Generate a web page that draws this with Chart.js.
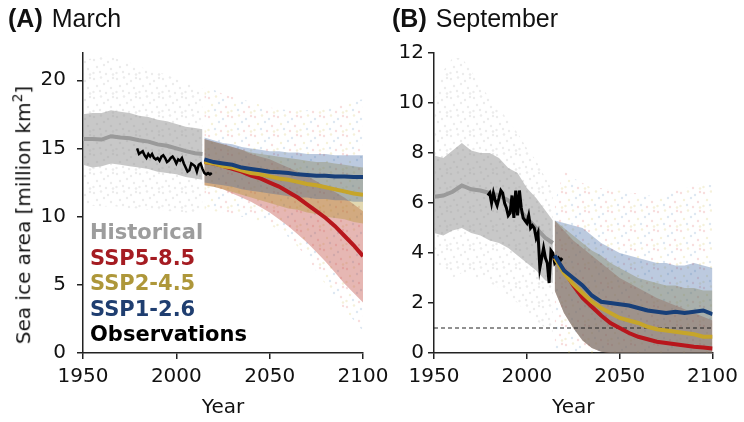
<!DOCTYPE html>
<html>
<head>
<meta charset="utf-8">
<script src="https://cdn.jsdelivr.net/npm/chart.js@4.4.1/dist/chart.umd.min.js"></script>
<style>
  body { margin: 0; background: #fff; width: 744px; height: 422px; overflow: hidden; position: relative; font-family: "DejaVu Sans", sans-serif; }
  canvas { position: absolute; top: 0; }
  #chartA { left: 0; }
  #chartB { left: 380px; }
  .titulo { position: absolute; top: 4px; font-family: "Liberation Sans", Arial, sans-serif; font-size: 25px; color: #111; white-space: nowrap; }
  .titulo b { margin-right: 9px; }
  .ylab { position: absolute; left: 22px; top: 215px; transform: translate(-50%, -50%) rotate(-90deg); font-size: 20px; color: #111; white-space: nowrap; }
  .ylab sup { font-size: 14px; }
  .leyenda { position: absolute; left: 90px; top: 220px; font-weight: bold; font-size: 21px; line-height: 25.5px; white-space: nowrap; }
</style>
</head>
<body>
<canvas id="chartA" width="400" height="422"></canvas>
<canvas id="chartB" width="364" height="422"></canvas>
<div class="titulo" style="left:8px"><b>(A)</b>March</div>
<div class="titulo" style="left:392px"><b>(B)</b>September</div>
<div class="ylab">Sea ice area [million km<sup>2</sup>]</div>
<div class="leyenda">
  <div style="color:#9d9d9d">Historical</div>
  <div style="color:#a51c22">SSP5-8.5</div>
  <div style="color:#ae973a">SSP2-4.5</div>
  <div style="color:#1f3e70">SSP1-2.6</div>
  <div style="color:#000">Observations</div>
</div>
<script>
// Años
const histYears = [1950, 1955, 1960, 1965, 1970, 1975, 1980, 1985, 1990, 1995, 2000, 2005, 2010, 2014];
const projYears = [2015, 2020, 2025, 2030, 2035, 2040, 2045, 2050, 2055, 2060, 2065, 2070, 2075, 2080, 2085, 2090, 2095, 2100];
const obsYears = [1979, 1980, 1981, 1982, 1983, 1984, 1985, 1986, 1987, 1988, 1989, 1990, 1991, 1992, 1993, 1994,
  1995, 1996, 1997, 1998, 1999, 2000, 2001, 2002, 2003, 2004, 2005, 2006, 2007, 2008, 2009, 2010, 2011, 2012,
  2013, 2014, 2015, 2016, 2017, 2018, 2019];
const xTicks = [1950, 2000, 2050, 2100];
const yTicksA = [0, 5, 10, 15, 20];
const yTicksB = [0, 2, 4, 6, 8, 10, 12];
const thresholdB = [1, 1];
const thresholdYears = [1950, 2100];

// Marzo (A)
const marHistMean = [15.7, 15.7, 15.65, 15.9, 15.8, 15.75, 15.6, 15.5, 15.3, 15.2, 15.0, 14.8, 14.65, 14.6];
const marHistHi = [17.5, 17.6, 17.6, 17.8, 17.7, 17.6, 17.4, 17.3, 17.1, 17.0, 16.8, 16.6, 16.5, 16.4];
const marHistLo = [13.8, 13.6, 13.7, 13.9, 13.8, 13.7, 13.6, 13.5, 13.3, 13.2, 13.1, 12.9, 12.8, 12.7];
const marHistCloudHi = [21.5, 21.6, 21.8, 21.7, 21.5, 21.3, 21.0, 20.8, 20.6, 20.4, 20.1, 19.8, 19.6, 19.4];
const marHistCloudLo = [11.0, 10.8, 10.7, 10.8, 10.7, 10.6, 10.6, 10.5, 10.5, 10.4, 10.4, 10.3, 10.3, 10.3];
const marObs = [15.0, 14.6, 14.7, 14.8, 14.5, 14.3, 14.6, 14.4, 14.6, 14.3, 14.2, 14.3, 14.1, 14.4, 14.5, 14.3,
  14.0, 14.1, 14.3, 14.4, 14.2, 13.9, 14.2, 14.1, 14.3, 13.9, 13.6, 13.3, 13.4, 13.9, 13.8, 13.7, 13.3, 13.8,
  13.9, 13.5, 13.2, 13.1, 13.2, 13.1, 13.2];
const marSsp126 = [14.2, 14.0, 13.9, 13.8, 13.6, 13.5, 13.4, 13.3, 13.25, 13.2, 13.1, 13.05, 13.0, 13.0, 12.95, 12.95, 12.9, 12.9];
const marSsp245 = [14.0, 13.9, 13.7, 13.6, 13.4, 13.2, 13.1, 12.95, 12.8, 12.7, 12.55, 12.4, 12.3, 12.15, 12.0, 11.85, 11.7, 11.6];
const marSsp585 = [14.0, 13.9, 13.7, 13.5, 13.3, 13.0, 12.8, 12.5, 12.2, 11.8, 11.4, 10.9, 10.4, 9.9, 9.3, 8.6, 7.9, 7.1];
const marSsp126Hi = [15.8, 15.6, 15.4, 15.3, 15.1, 15.0, 14.9, 14.8, 14.8, 14.7, 14.7, 14.6, 14.6, 14.6, 14.5, 14.5, 14.5, 14.5];
const marSsp126Lo = [12.5, 12.4, 12.3, 12.2, 12.0, 11.9, 11.8, 11.7, 11.6, 11.5, 11.4, 11.4, 11.3, 11.3, 11.2, 11.2, 11.1, 11.1];
const marSsp245Hi = [15.7, 15.5, 15.3, 15.1, 14.9, 14.7, 14.6, 14.5, 14.4, 14.3, 14.2, 14.1, 14.0, 14.0, 13.9, 13.8, 13.7, 13.6];
const marSsp245Lo = [12.3, 12.2, 12.0, 11.8, 11.6, 11.4, 11.2, 11.0, 10.8, 10.6, 10.5, 10.3, 10.2, 10.0, 9.9, 9.8, 9.6, 9.5];
const marSsp585Hi = [15.7, 15.5, 15.3, 15.1, 14.9, 14.6, 14.4, 14.2, 13.9, 13.6, 13.3, 13.0, 12.6, 12.2, 11.8, 11.4, 10.9, 10.4];
const marSsp585Lo = [12.3, 12.2, 12.0, 11.7, 11.4, 11.1, 10.7, 10.3, 9.8, 9.3, 8.7, 8.1, 7.4, 6.7, 5.9, 5.1, 4.4, 3.7];
const marProjCloudHi = [19.7, 19.3, 19.0, 18.8, 18.6, 18.4, 18.2, 18.0, 17.9, 17.8, 17.8, 17.8, 17.9, 18.0, 18.1, 18.3, 18.5, 18.6];
const marProjCloudLo = [10.5, 10.4, 10.3, 10.1, 10.0, 9.8, 9.6, 9.4, 9.0, 8.5, 7.8, 7.0, 6.0, 5.0, 4.0, 3.2, 2.4, 1.6];

// Septiembre (B)
const sepHistMean = [6.25, 6.3, 6.45, 6.7, 6.55, 6.5, 6.4, 6.3, 6.1, 5.8, 5.4, 5.0, 4.6, 4.4];
const sepHistHi = [7.9, 7.8, 8.1, 8.4, 8.1, 8.0, 8.0, 7.8, 7.4, 7.2, 6.6, 6.2, 5.7, 5.3];
const sepHistLo = [4.8, 4.7, 4.9, 5.0, 4.8, 4.7, 4.5, 4.4, 4.2, 3.9, 3.6, 3.3, 2.9, 2.8];
const sepHistCloudHi = [10.0, 11.3, 11.8, 11.8, 11.3, 10.7, 10.2, 9.8, 9.3, 8.8, 8.2, 7.7, 7.0, 6.5];
const sepHistCloudLo = [3.5, 3.5, 3.0, 3.2, 3.0, 3.0, 2.8, 2.6, 2.3, 2.0, 1.6, 1.3, 1.0, 0.8];
const sepObs = [6.3, 6.4, 6.0, 6.4, 6.1, 5.9, 6.2, 6.5, 6.4, 6.0, 5.8, 5.5, 5.6, 6.3, 5.4, 6.5,
  5.5, 6.5, 5.8, 5.4, 5.3, 5.2, 5.5, 5.0, 5.1, 5.0, 4.6, 4.8, 3.4, 3.8, 4.2, 3.8, 3.6, 2.8,
  4.1, 4.0, 3.6, 3.7, 3.8, 3.7, 3.8];
const sepSsp126 = [3.9, 3.3, 3.0, 2.7, 2.3, 2.05, 2.0, 1.95, 1.9, 1.8, 1.7, 1.65, 1.6, 1.65, 1.6, 1.65, 1.7, 1.55];
const sepSsp245 = [3.8, 3.2, 2.75, 2.4, 2.05, 1.8, 1.6, 1.4, 1.3, 1.2, 1.05, 0.95, 0.9, 0.85, 0.8, 0.75, 0.65, 0.65];
const sepSsp585 = [3.8, 3.3, 2.7, 2.2, 1.85, 1.5, 1.2, 1.0, 0.8, 0.65, 0.55, 0.45, 0.4, 0.35, 0.3, 0.25, 0.22, 0.18];
const sepSsp126Hi = [5.3, 5.2, 5.1, 5.0, 4.7, 4.4, 4.2, 4.0, 3.9, 3.8, 3.7, 3.6, 3.6, 3.5, 3.5, 3.6, 3.5, 3.4];
const sepSsp126Lo = [2.5, 1.6, 1.0, 0.5, 0.2, 0.05, 0, 0, 0, 0, 0, 0, 0, 0, 0, 0, 0, 0];
const sepSsp245Hi = [5.3, 5.0, 4.7, 4.4, 4.1, 3.9, 3.6, 3.4, 3.2, 3.0, 2.9, 2.8, 2.7, 2.7, 2.6, 2.6, 2.5, 2.5];
const sepSsp245Lo = [2.5, 1.6, 1.0, 0.5, 0.2, 0.05, 0, 0, 0, 0, 0, 0, 0, 0, 0, 0, 0, 0];
const sepSsp585Hi = [5.3, 4.9, 4.5, 4.2, 3.9, 3.6, 3.3, 3.0, 2.8, 2.6, 2.4, 2.2, 2.05, 1.9, 1.75, 1.6, 1.45, 1.3];
const sepSsp585Lo = [2.5, 1.6, 1.0, 0.5, 0.2, 0.05, 0, 0, 0, 0, 0, 0, 0, 0, 0, 0, 0, 0];
const sepProjCloudHi = [6.0, 7.3, 7.0, 6.8, 6.6, 6.6, 6.5, 6.5, 6.4, 6.4, 6.3, 6.3, 6.4, 6.5, 6.6, 6.7, 6.8, 6.7];
const sepProjCloudLo = [0, 0, 0, 0, 0, 0, 0, 0, 0, 0, 0, 0, 0, 0, 0, 0, 0, 0];

// Colores
const colHist = '#9a9a9a';
const colObs = '#000000';
const col585 = '#b8161c';
const col245 = '#c6a52a';
const col126 = '#173f79';
const fillHist = 'rgba(145,145,145,0.5)';
const fill585 = 'rgba(190,65,55,0.38)';
const fill245 = 'rgba(175,148,40,0.36)';
const fill126 = 'rgba(60,100,160,0.34)';

// Patrón de puntos dispersos (tesela irregular para que no parezca rejilla)
function patronPuntos(colores, alpha) {
  const c = document.createElement('canvas');
  c.width = 23; c.height = 19;
  const g = c.getContext('2d');
  const pos = [[2, 3], [9, 1.5], [16, 5], [21, 2], [5, 10], [12, 8], [19, 12], [1.5, 16], [8, 15], [14, 17], [21, 17.5]];
  pos.forEach((p, i) => {
    g.fillStyle = colores[i % colores.length];
    g.globalAlpha = alpha;
    g.beginPath();
    g.arc(p[0], p[1], 1.2, 0, Math.PI * 2);
    g.fill();
  });
  return document.createElement('canvas').getContext('2d').createPattern(c, 'repeat');
}
const patHist = patronPuntos(['#8a8a8a'], 0.16);
const patProj = patronPuntos(['#d55', '#cb4', '#58b'], 0.2);

function pts(xs, ys) {
  return xs.map((x, i) => ({ x: x, y: ys[i] }));
}

function linea(xs, ys, color, ancho, orden) {
  return { data: pts(xs, ys), borderColor: color, borderWidth: ancho, pointRadius: 0, fill: false, order: orden, tension: 0 };
}

// Banda: dos datasets; el superior rellena hasta el inferior
function banda(lista, xs, lo, hi, relleno, orden) {
  const idx = lista.length;
  lista.push({ data: pts(xs, lo), borderWidth: 0, pointRadius: 0, fill: false, order: orden });
  lista.push({ data: pts(xs, hi), borderWidth: 0, pointRadius: 0, fill: idx, backgroundColor: relleno, order: orden });
}

function crearGrafico(id, ds, ymax, yTicks, left, right, tickPad) {
  const ctx = document.getElementById(id).getContext('2d');
  return new Chart(ctx, {
    type: 'line',
    data: { datasets: ds },
    options: {
      responsive: false,
      animation: false,
      layout: { padding: { left: 0, top: 53, right: right, bottom: 0 } },
      plugins: { legend: { display: false }, tooltip: { enabled: false } },
      scales: {
        x: {
          type: 'linear', min: 1950, max: 2100,
          afterBuildTicks: s => { s.ticks = xTicks.map(v => ({ value: v })); },
          afterFit: s => { s.height = 69; },
          grid: { drawOnChartArea: false, drawTicks: true, tickLength: 6, color: '#222', lineWidth: 1.5 },
          border: { display: true, color: '#222', width: 1.5 },
          ticks: { color: '#111', padding: 6, font: { family: 'DejaVu Sans', size: 20 }, maxRotation: 0, callback: v => String(v) },
          title: { display: true, text: 'Year', color: '#111', font: { family: 'DejaVu Sans', size: 20 }, padding: { top: 0, bottom: 2 } }
        },
        y: {
          min: 0, max: ymax,
          afterBuildTicks: s => { s.ticks = yTicks.map(v => ({ value: v })); },
          afterFit: s => { s.width = left; },
          grid: { drawOnChartArea: false, drawTicks: true, tickLength: 6, color: '#222', lineWidth: 1.5 },
          border: { display: true, color: '#222', width: 1.5 },
          ticks: { color: '#111', padding: tickPad, font: { family: 'DejaVu Sans', size: 20 }, callback: v => String(v) }
        }
      }
    }
  });
}

// Panel A
const dsA = [];
banda(dsA, histYears, marHistCloudLo, marHistCloudHi, patHist, 20);
banda(dsA, projYears, marProjCloudLo, marProjCloudHi, patProj, 20);
banda(dsA, histYears, marHistLo, marHistHi, fillHist, 15);
banda(dsA, projYears, marSsp585Lo, marSsp585Hi, fill585, 14);
banda(dsA, projYears, marSsp245Lo, marSsp245Hi, fill245, 13);
banda(dsA, projYears, marSsp126Lo, marSsp126Hi, fill126, 12);
dsA.push(linea(histYears, marHistMean, colHist, 4, 6));
dsA.push(linea(obsYears, marObs, colObs, 2.5, 5));
dsA.push(linea(projYears, marSsp585, col585, 4, 3));
dsA.push(linea(projYears, marSsp245, col245, 4, 2));
dsA.push(linea(projYears, marSsp126, col126, 4, 1));
crearGrafico('chartA', dsA, 22, yTicksA, 83, 37, 11);

// Panel B
const dsB = [];
banda(dsB, histYears, sepHistCloudLo, sepHistCloudHi, patHist, 20);
banda(dsB, projYears, sepProjCloudLo, sepProjCloudHi, patProj, 20);
banda(dsB, histYears, sepHistLo, sepHistHi, fillHist, 15);
banda(dsB, projYears, sepSsp585Lo, sepSsp585Hi, fill585, 14);
banda(dsB, projYears, sepSsp245Lo, sepSsp245Hi, fill245, 13);
banda(dsB, projYears, sepSsp126Lo, sepSsp126Hi, fill126, 12);
dsB.push({ data: pts(thresholdYears, thresholdB), borderColor: '#222', borderWidth: 1, borderDash: [4, 3], pointRadius: 0, fill: false, order: 8 });
dsB.push(linea(histYears, sepHistMean, colHist, 4, 6));
dsB.push(linea(obsYears, sepObs, colObs, 3, 5));
dsB.push(linea(projYears, sepSsp585, col585, 4, 3));
dsB.push(linea(projYears, sepSsp245, col245, 4, 2));
dsB.push(linea(projYears, sepSsp126, col126, 4, 1));
crearGrafico('chartB', dsB, 12, yTicksB, 54, 30, 4);
</script>
</body>
</html>
